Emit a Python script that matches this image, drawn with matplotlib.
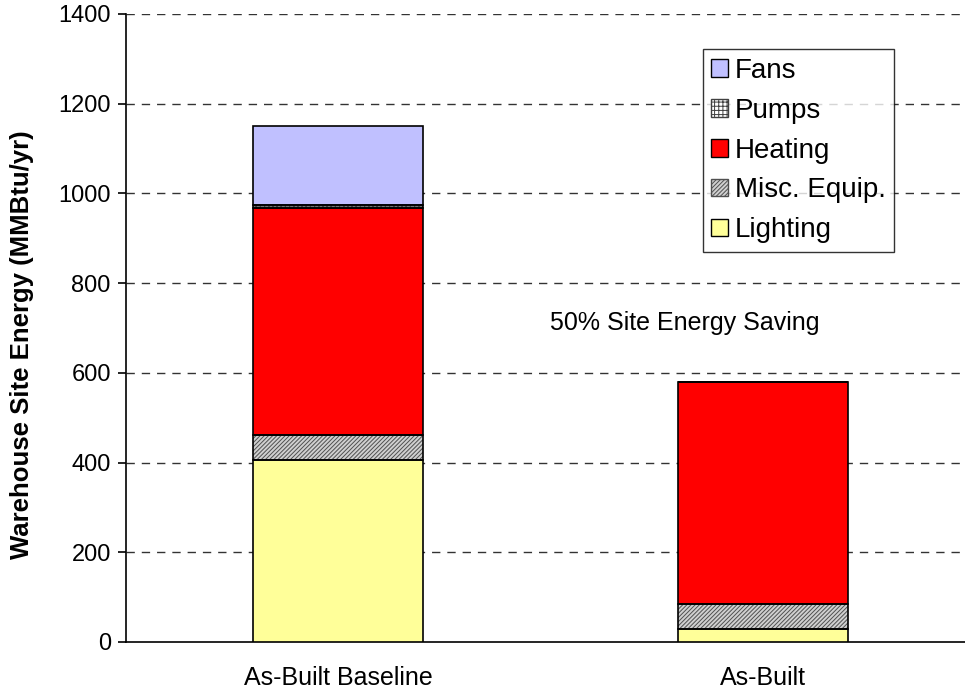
import numpy as np
import matplotlib
matplotlib.use("Agg")
import matplotlib.pyplot as plt
from matplotlib.patches import Patch

plt.rcParams['font.family'] = ['Liberation Sans', 'DejaVu Sans']

# data (MMBtu/yr)
cases = ['As-Built Baseline', 'As-Built']
lighting = [406, 29]
misc_equip = [56, 56]
heating = [505, 494]
pumps = [7, 0]
fans = [177, 0]

x = np.arange(len(cases))
w = 0.4

fig = plt.figure(figsize=(9.65, 6.96), dpi=100)
ax = fig.add_axes([0.1306, 0.0776, 0.8694, 0.9023])

plt.rcParams['hatch.linewidth'] = 0.7

def layer(vals, bottom, fc, hatch=None, hc='#555555'):
    # fill + hatch first, then a clean black outline on top
    ax.bar(x, vals, w, bottom=bottom, color=fc, edgecolor=hc if hatch else fc,
           hatch=hatch, linewidth=0, zorder=3)
    ax.bar(x, vals, w, bottom=bottom, fill=False, edgecolor='black',
           linewidth=1.2, zorder=4)

b = np.zeros(len(cases))
layer(lighting, b, '#FFFF99')
b += lighting
layer(misc_equip, b, '#D0D0D0', hatch='////////', hc='#505050')
b += misc_equip
layer(heating, b, '#FF0000')
b += heating
layer(pumps, b, 'white', hatch='++++', hc='#404040')
b += pumps
layer(fans, b, '#C0C0FF')

ax.set_xlim(-0.499, 1.475)
ax.set_ylim(0, 1400)
ax.set_yticks(np.arange(0, 1401, 200))
ax.set_xticks(x)
ax.set_xticklabels(cases, fontsize=18)
ax.tick_params(axis='x', length=0, pad=17)
ax.tick_params(axis='y', labelsize=17, length=6, width=1.2, direction='out', pad=5)

for yv in np.arange(200, 1401, 200):
    ax.axhline(yv, color='#333333', lw=1, ls=(0, (6, 5)), zorder=1)

for s in ['top', 'right']:
    ax.spines[s].set_visible(False)
ax.spines['left'].set_linewidth(1.2)
ax.spines['bottom'].set_linewidth(1.2)

ax.set_ylabel('Warehouse Site Energy (MMBtu/yr)', fontsize=18.5, fontweight='bold')
ax.yaxis.set_label_coords(-0.11, 0.473)

ax.text(0.816, 711, '50% Site Energy Saving', fontsize=18, ha='center', va='center')

handles = [
    Patch(facecolor='#C0C0FF', edgecolor='black', label='Fans'),
    Patch(facecolor='white', edgecolor='#404040', hatch='++++', label='Pumps'),
    Patch(facecolor='#FF0000', edgecolor='black', label='Heating'),
    Patch(facecolor='#D0D0D0', edgecolor='#505050', hatch='////////', label='Misc. Equip.'),
    Patch(facecolor='#FFFF99', edgecolor='black', label='Lighting'),
]
leg = ax.legend(handles=handles, loc='upper left', bbox_to_anchor=(0.6877, 0.9435),
                fontsize=20, frameon=True, fancybox=False, shadow=False,
                handlelength=0.6, handleheight=0.6, handletextpad=0.25,
                labelspacing=0.5, borderpad=0.3, borderaxespad=0)
leg.get_frame().set_edgecolor('black')
leg.get_frame().set_linewidth(1.0)
leg.set_zorder(5)

fig.savefig('out.png', dpi=100)
